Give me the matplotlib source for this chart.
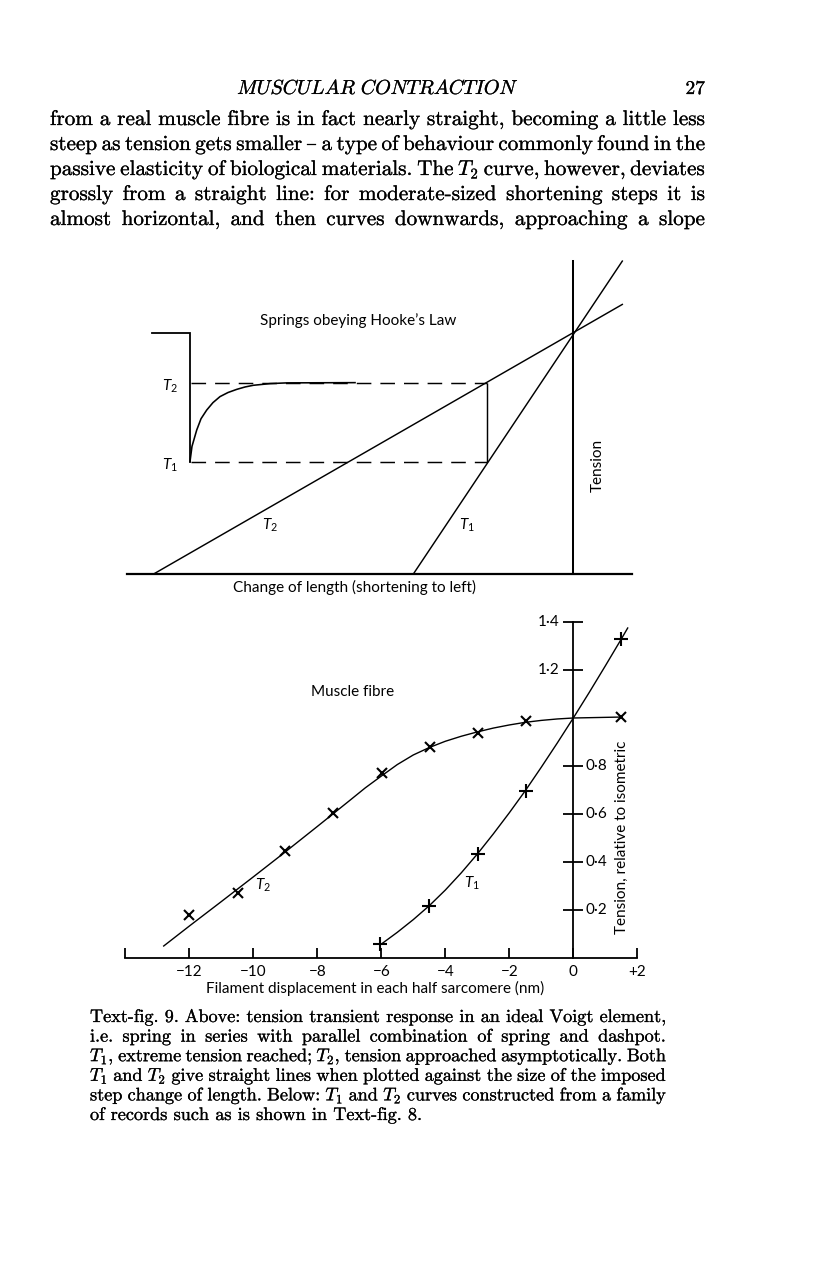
import matplotlib
matplotlib.use("Agg")
import matplotlib.pyplot as plt
import matplotlib.patheffects as pe

plt.rcParams['font.family'] = ['Lato', 'DejaVu Sans']
plt.rcParams['mathtext.fontset'] = 'custom'
plt.rcParams['mathtext.rm'] = 'Lato'
plt.rcParams['mathtext.it'] = 'Lato:italic'
plt.rcParams['mathtext.bf'] = 'Lato:bold'
plt.rcParams['lines.scale_dashes'] = False

W, H = 816, 1281
SERIF = ['cmr10', 'DejaVu Serif']
INK = [pe.withStroke(linewidth=0.18, foreground='black')]

# ---- page text ----
header = r'$MUSCULAR\ CONTRACTION$'
page_number = '27'
body_lines = [
    "from a real muscle fibre is in fact nearly straight, becoming a little less",
    "steep as tension gets smaller \u2013 a type of behaviour commonly found in the",
    "passive elasticity of biological materials. The $T_2$ curve, however, deviates",
    "grossly from a straight line: for moderate-sized shortening steps it is",
    "almost horizontal, and then curves downwards, approaching a slope",
]
caption_lines = [
    "Text-fig. 9. Above: tension transient response in an ideal Voigt element,",
    "i.e. spring in series with parallel combination of spring and dashpot.",
    "$T_1$, extreme tension reached; $T_2$, tension approached asymptotically. Both",
    "$T_1$ and $T_2$ give straight lines when plotted against the size of the imposed",
    "step change of length. Below: $T_1$ and $T_2$ curves constructed from a family",
    "of records such as is shown in Text-fig. 8.",
]

# ---- upper panel: springs obeying Hooke's law (length in step units, tension rel. isometric) ----
hooke_t1_x = [-1.86, 0.57]
hooke_t1_y = [0.0, 1.30]
hooke_t2_x = [-4.88, 0.57]
hooke_t2_y = [0.0, 1.12]
step_size = -1.0
t1_level = 0.467
t2_level = 0.795
trace_x = [-4.90, -4.457, -4.457, -4.434, -4.379, -4.329, -4.263, -4.190, -4.108,
           -4.015, -3.914, -3.817, -3.721, -3.526, -3.333, -2.538]
trace_y = [1.0, 1.0, 0.467, 0.530, 0.598, 0.645, 0.681, 0.712, 0.737,
           0.754, 0.767, 0.777, 0.784, 0.791, 0.794, 0.795]

# ---- lower panel: muscle fibre ----
t2_x = [-12.0, -10.49, -9.01, -7.52, -5.97, -4.48, -2.99, -1.48, 1.48]
t2_y = [0.18, 0.27, 0.445, 0.605, 0.772, 0.879, 0.936, 0.989, 1.003]
t1_x = [-6.04, -4.51, -2.99, -1.48, 1.48]
t1_y = [0.058, 0.217, 0.433, 0.696, 1.329]
t2_curve_x = [-12.8, -12.0, -11.0, -10.0, -9.0, -8.0, -7.0, -6.5, -6.0, -5.5, -5.0, -4.5,
              -4.0, -3.5, -3.0, -2.5, -2.0, -1.5, -1.0, -0.5, 0.0, 0.75, 1.5]
t2_curve_y = [0.05, 0.133, 0.235, 0.338, 0.442, 0.548, 0.655, 0.709, 0.758, 0.806, 0.846, 0.877,
              0.903, 0.924, 0.942, 0.958, 0.971, 0.982, 0.990, 0.996, 1.0, 1.002, 1.004]
t1_curve_x = [-6.0, -5.5, -5.0, -4.5, -4.0, -3.5, -3.0, -2.5, -2.0, -1.5, -1.0, -0.5,
              0.0, 0.5, 1.0, 1.5, 1.7]
t1_curve_y = [0.058, 0.107, 0.160, 0.218, 0.283, 0.355, 0.433, 0.517, 0.605, 0.697, 0.795, 0.896,
              1.0, 1.107, 1.217, 1.329, 1.375]
xtick_pos = [-14, -12, -10, -8, -6, -4, -2, 0, 2]
xtick_labels = ['', '\u221212', '\u221210', '\u22128', '\u22126', '\u22124', '\u22122', '0', '+2']
ytick_left = [1.2, 1.4]
ytick_right = [0.2, 0.4, 0.6, 0.8]

fig = plt.figure(figsize=(W / 100, H / 100), dpi=100)
page = fig.add_axes([0, 0, 1, 1])
page.set_xlim(0, W)
page.set_ylim(H, 0)
page.axis('off')
renderer = fig.canvas.get_renderer()


def word_width(word, size):
    t = page.text(0, 0, word, size=size, family=SERIF, math_fontfamily='cm')
    w = t.get_window_extent(renderer).width
    t.remove()
    return w


def fit_size(lines, width, base):
    ks = []
    for line in lines:
        words = line.split()
        need = sum(word_width(w, base) for w in words) + (len(words) - 1) * 0.333 * base * 100 / 72
        ks.append(width / need)
    return base * min(ks)


def draw_block(lines, x0, x1, y0, dy, size, justify_last):
    for i, line in enumerate(lines):
        words = line.split()
        widths = [word_width(w, size) for w in words]
        last = i == len(lines) - 1
        if last and not justify_last:
            gap = 0.333 * size * 100 / 72
        else:
            gap = (x1 - x0 - sum(widths)) / (len(words) - 1)
        x = x0
        for w, ww in zip(words, widths):
            page.text(x, y0 + i * dy, w, size=size, family=SERIF, math_fontfamily='cm',
                      va='baseline', ha='left', path_effects=INK)
            x += ww + gap


page.text(378, 94, header, size=14.5, ha='center', va='baseline', math_fontfamily='cm',
          path_effects=INK)
page.text(705, 94, page_number, size=14, family=SERIF, ha='right', va='baseline',
          path_effects=INK)

body_size = fit_size(body_lines[:1], 655, 14)
draw_block(body_lines, 50, 705, 125, 25, body_size, True)
cap_size = fit_size(caption_lines[:1], 576, 12)
draw_block(caption_lines, 90, 666, 1022, 19.6, cap_size, False)


def px_axes(box, x_org, x_scale, y_org, y_scale):
    left, top, right, bottom = box
    ax = fig.add_axes([left / W, 1 - bottom / H, (right - left) / W, (bottom - top) / H])
    ax.set_xlim((left - x_org) / x_scale, (right - x_org) / x_scale)
    ax.set_ylim((y_org - bottom) / y_scale, (y_org - top) / y_scale)
    ax.patch.set_visible(False)
    for s in ['top', 'right']:
        ax.spines[s].set_visible(False)
    ax.spines['bottom'].set_position(('data', 0))
    ax.spines['left'].set_position(('data', 0))
    return ax


FS = 11

# upper panel
ax1 = px_axes((100, 250, 680, 600), 573.3, 86.0, 574.0, 240.7)
ax1.spines['bottom'].set_bounds(-5.19, 0.68)
ax1.spines['bottom'].set_linewidth(1.6)
ax1.spines['left'].set_bounds(0, 1.30)
ax1.spines['left'].set_linewidth(1.45)
ax1.set_xticks([])
ax1.set_yticks([])
ax1.plot(hooke_t1_x, hooke_t1_y, color='black', lw=1.05)
ax1.plot(hooke_t2_x, hooke_t2_y, color='black', lw=1.05)
ax1.hlines([t1_level, t2_level], -4.44, step_size, colors='black', lw=1.05,
           linestyles=[(0, (10.5, 6.5))])
ax1.vlines(step_size, t1_level, t2_level, colors='black', lw=1.05)
ax1.plot(trace_x[:3], trace_y[:3], color='black', lw=1.3, solid_joinstyle='miter')
ax1.plot(trace_x[2:], trace_y[2:], color='black', lw=1.15)
ax1.text(-4.6, t2_level - 0.015, '$T_2$', ha='right', va='center', size=FS)
ax1.text(-4.6, t1_level - 0.015, '$T_1$', ha='right', va='center', size=FS)
ax1.text(-3.53, 0.204, '$T_2$', ha='center', va='center', size=FS)
ax1.text(-1.24, 0.204, '$T_1$', ha='center', va='center', size=FS)
ax1.text(-2.5, 1.052, 'Springs obeying Hooke\u2019s Law', ha='center', va='center', size=FS)
ax1.text(0.279, 0.453, 'Tension', rotation=90, ha='center', va='center', size=FS)
ax1.text(-2.54, -0.058, 'Change of length (shortening to left)', ha='center', va='center', size=FS)

# lower panel
ax2 = px_axes((90, 600, 680, 1010), 573.3, 32.0, 958.0, 240.0)
ax2.spines['bottom'].set_bounds(-14, 2)
ax2.spines['left'].set_bounds(0, 1.4)
ax2.spines['bottom'].set_linewidth(1.3)
ax2.spines['left'].set_linewidth(1.3)
ax2.set_xticks(xtick_pos)
ax2.set_xticklabels(xtick_labels)
ax2.tick_params(axis='x', direction='in', length=7.2, width=1.3, pad=5, labelsize=FS)
ax2.set_yticks(ytick_left + ytick_right)
ax2.tick_params(axis='y', direction='inout', length=14.4, width=1.3, labelleft=False)
for v in ytick_left:
    ax2.text(-0.42, v, f'{v:.1f}'.replace('.', '\u00b7'), ha='right', va='center', size=FS)
for v in ytick_right:
    ax2.text(0.38, v, f'{v:.1f}'.replace('.', '\u00b7'), ha='left', va='center', size=FS)
ax2.plot(t2_curve_x, t2_curve_y, color='black', lw=1.0)
ax2.plot(t1_curve_x, t1_curve_y, color='black', lw=1.0)
ax2.plot(t2_x, t2_y, ls='none', marker='x', ms=7.5, mew=1.5, color='black')
ax2.plot(t1_x, t1_y, ls='none', marker='+', ms=9.5, mew=1.5, color='black')
ax2.text(-9.7, 0.304, '$T_2$', ha='center', va='center', size=FS)
ax2.text(-3.18, 0.3125, '$T_1$', ha='center', va='center', size=FS)
ax2.text(-6.89, 1.108, 'Muscle fibre', ha='center', va='center', size=FS)
ax2.text(1.51, 0.502, 'Tension, relative to isometric', rotation=90, ha='center', va='center',
         size=FS)
ax2.text(-6.2, -0.125, 'Filament displacement in each half sarcomere (nm)',
         ha='center', va='center', size=FS)

fig.savefig('out.png', dpi=100)
